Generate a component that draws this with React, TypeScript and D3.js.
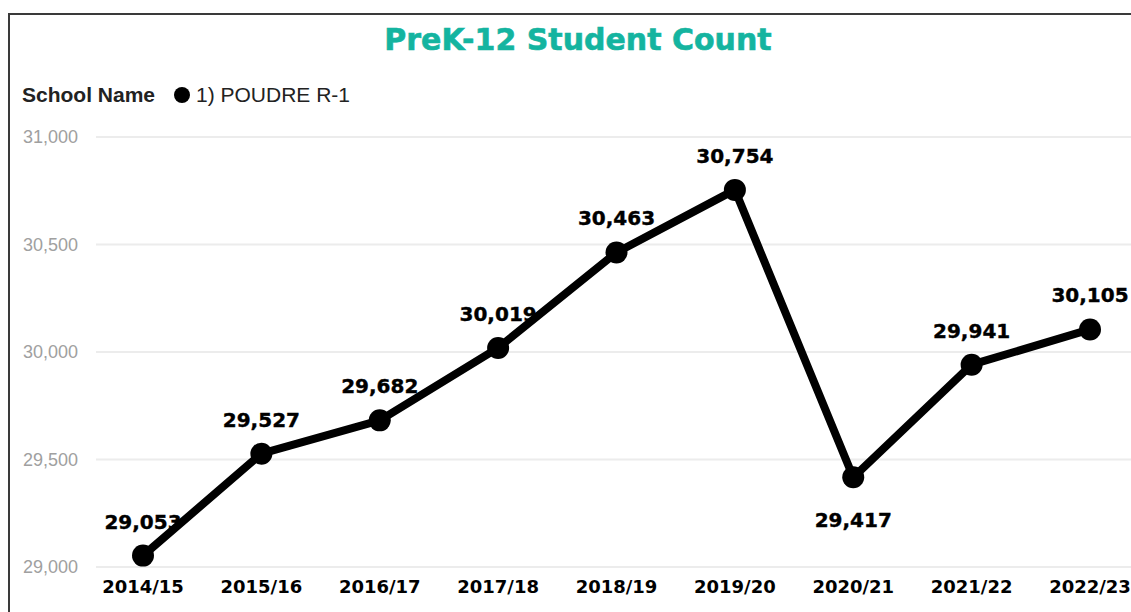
import React, { useEffect, useRef } from 'react'
import * as d3 from 'd3'

const years = ['2014/15', '2015/16', '2016/17', '2017/18', '2018/19', '2019/20', '2020/21', '2021/22', '2022/23']
const studentCounts = [29053, 29527, 29682, 30019, 30463, 30754, 29417, 29941, 30105]
const yTicks = [29000, 29500, 30000, 30500, 31000]
const seriesName = '1) POUDRE R-1'

const WIDTH = 1131
const HEIGHT = 612

const App: React.FC = () => {
  const svgRef = useRef<SVGSVGElement>(null)

  useEffect(() => {
    if (!svgRef.current) return
    const data = years.map((y, i) => ({ year: y, value: studentCounts[i] }))

    const xScale = d3.scalePoint<string>().domain(years).range([143, 1090])
    const yScale = d3.scaleLinear().domain([29000, 31000]).range([567, 137])

    const svg = d3.select(svgRef.current)
    svg.selectAll('*').remove()

    svg.append('rect').attr('width', WIDTH).attr('height', HEIGHT).attr('fill', '#ffffff')

    // frame (top + left edges visible)
    svg.append('path')
      .attr('d', `M9,${HEIGHT} L9,14 L${WIDTH},14`)
      .attr('fill', 'none')
      .attr('stroke', '#3a3a3a')
      .attr('stroke-width', 2)

    svg.append('text')
      .attr('x', 578)
      .attr('y', 50)
      .attr('text-anchor', 'middle')
      .style('font-family', 'DejaVu Sans, sans-serif')
      .style('font-weight', 'bold')
      .style('font-size', '30px')
      .style('fill', '#14b4a0')
      .style('stroke', '#14b4a0')
      .style('stroke-width', 0.6)
      .text('PreK-12 Student Count')

    // legend
    svg.append('text')
      .attr('x', 22)
      .attr('y', 102)
      .style('font-family', 'Liberation Sans, Arial, sans-serif')
      .style('font-weight', 'bold')
      .style('font-size', '21px')
      .style('fill', '#222')
      .text('School Name')
    svg.append('circle').attr('cx', 182).attr('cy', 95).attr('r', 8).attr('fill', '#000')
    svg.append('text')
      .attr('x', 196)
      .attr('y', 102)
      .style('font-family', 'Liberation Sans, Arial, sans-serif')
      .style('font-size', '21px')
      .style('fill', '#222')
      .text(seriesName)

    // gridlines + y labels
    const grid = svg.append('g')
    grid.selectAll('line')
      .data(yTicks)
      .enter()
      .append('line')
      .attr('x1', 96)
      .attr('x2', WIDTH)
      .attr('y1', (d) => yScale(d))
      .attr('y2', (d) => yScale(d))
      .attr('stroke', '#ececec')
      .attr('stroke-width', 2)
    grid.selectAll('text')
      .data(yTicks)
      .enter()
      .append('text')
      .attr('x', 78)
      .attr('y', (d) => yScale(d))
      .attr('dy', '0.35em')
      .attr('text-anchor', 'end')
      .style('font-family', 'Liberation Sans, Arial, sans-serif')
      .style('font-size', '18px')
      .style('fill', '#a0a0a0')
      .text((d) => d3.format(',')(d))

    // x labels
    svg.append('g')
      .selectAll('text')
      .data(years)
      .enter()
      .append('text')
      .attr('x', (d) => xScale(d) || 0)
      .attr('y', 593)
      .attr('text-anchor', 'middle')
      .style('font-family', 'DejaVu Sans, sans-serif')
      .style('font-weight', 'bold')
      .style('font-size', '18px')
      .style('fill', '#000')
      .text((d) => d)

    const line = d3
      .line<{ year: string; value: number }>()
      .x((d) => xScale(d.year) || 0)
      .y((d) => yScale(d.value))

    svg.append('path')
      .datum(data)
      .attr('d', line)
      .attr('fill', 'none')
      .attr('stroke', '#000')
      .attr('stroke-width', 8)
      .attr('stroke-linejoin', 'round')

    svg.selectAll('.dot')
      .data(data)
      .enter()
      .append('circle')
      .attr('class', 'dot')
      .attr('cx', (d) => xScale(d.year) || 0)
      .attr('cy', (d) => yScale(d.value))
      .attr('r', 11)
      .attr('fill', '#000')

    svg.selectAll('.lbl')
      .data(data)
      .enter()
      .append('text')
      .attr('class', 'lbl')
      .attr('x', (d) => xScale(d.year) || 0)
      .attr('y', (d) => yScale(d.value) + (d.year === '2020/21' ? 50 : -27))
      .attr('text-anchor', 'middle')
      .style('font-family', 'DejaVu Sans, sans-serif')
      .style('font-weight', 'bold')
      .style('font-size', '20px')
      .style('fill', '#000')
      .style('stroke', '#000')
      .style('stroke-width', 0.4)
      .text((d) => d3.format(',')(d.value))
  }, [])

  return (
    <svg
      ref={svgRef}
      width={WIDTH}
      height={HEIGHT}
      style={{ position: 'absolute', left: 0, top: 0, display: 'block' }}
    />
  )
}

export default App
